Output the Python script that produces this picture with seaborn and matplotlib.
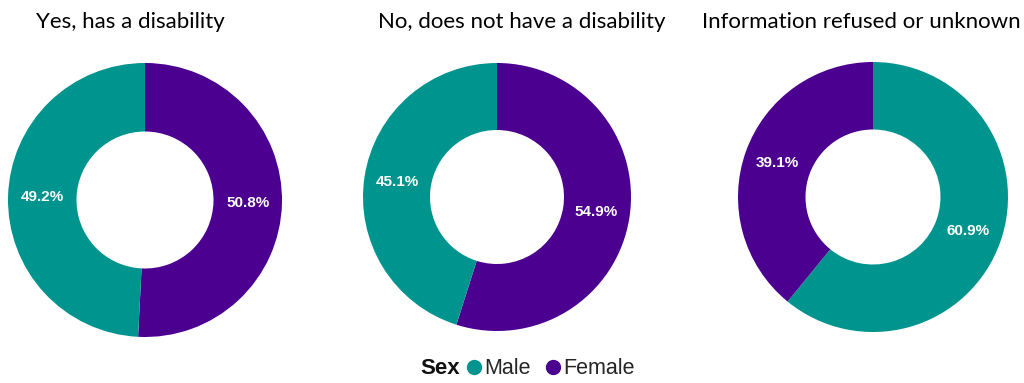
import matplotlib
matplotlib.use("Agg")
import matplotlib.pyplot as plt
import seaborn as sns
from matplotlib.lines import Line2D

groups = ["Yes, has a disability", "No, does not have a disability",
          "Information refused or unknown"]
sexes = ["Male", "Female"]
male = [49.2, 45.1, 60.9]
female = [50.8, 54.9, 39.1]

colors = {"Male": "#00948F", "Female": "#4B008F"}

sns.set_theme(style="white")
plt.rcParams['font.family'] = ['Liberation Sans', 'DejaVu Sans']

W, H = 1024, 383
fig = plt.figure(figsize=(W / 100, H / 100), dpi=100)

# donut boxes in pixels: center x, center y, radius
boxes = [(145, 200, 137), (497, 197, 134), (873, 197, 135)]
title_x = [130, 522, 861]

for i, g in enumerate(groups):
    cx, cy, r = boxes[i]
    ax = fig.add_axes([(cx - r) / W, (H - cy - r) / H, 2 * r / W, 2 * r / H])
    vals = [male[i], female[i]]
    order = sorted(range(2), key=lambda k: -vals[k])
    v = [vals[k] for k in order]
    c = [colors[sexes[k]] for k in order]
    ax.pie(v, colors=c, startangle=90, counterclock=False, radius=1,
           wedgeprops=dict(width=0.5, linewidth=0),
           autopct="%.1f%%", pctdistance=0.75,
           textprops=dict(color="white", fontsize=11, fontweight="bold"))
    ax.set_xlim(-1, 1)
    ax.set_ylim(-1, 1)
    ax.set_aspect("equal")
    ax.axis("off")
    fig.text(title_x[i] / W, 1 - 22 / H, g, ha="center", va="center",
             fontsize=16, family=["Lato", "DejaVu Sans"], color="black")

fig.text(440 / W, 1 - 369 / H, "Sex", ha="center", va="center",
         fontsize=16, fontweight="bold", color="#111111")
handles = [Line2D([0], [0], marker="o", linestyle="", markersize=10,
                  markerfacecolor=colors[s], markeredgecolor=colors[s], label=s)
           for s in sexes]
fig.legend(handles=handles, loc="center left", bbox_to_anchor=(463 / W, 1 - 369 / H),
           ncol=2, frameon=False, fontsize=15.5, handletextpad=0.0,
           columnspacing=0.5, handlelength=1.0, borderaxespad=0, borderpad=0)

fig.savefig("out.png", dpi=100)
